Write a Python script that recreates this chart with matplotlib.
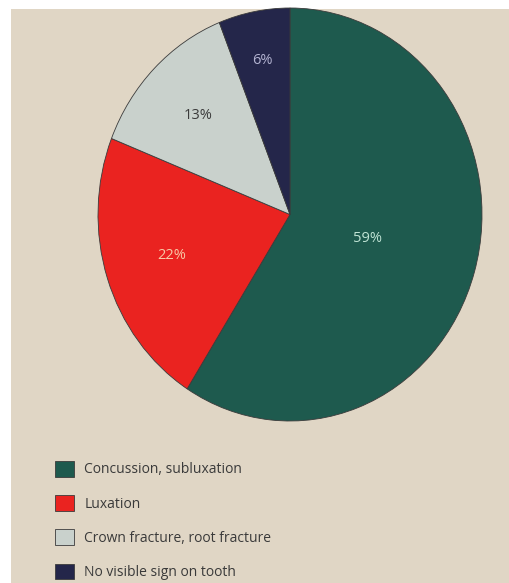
import numpy as np
import matplotlib.pyplot as plt
from matplotlib.patches import Rectangle

plt.rcParams['font.family'] = ['Open Sans', 'DejaVu Sans']

categories = ['Concussion, subluxation', 'Luxation',
              'Crown fracture, root fracture', 'No visible sign on tooth']
shares = [59, 22, 13, 6]

colors = ['#1e5a4e', '#ea2320', '#c9d1cc', '#24264a']
label_colors = ['#bfe3d4', '#f8c9a6', '#3a3a3a', '#b4b4d2']
label_dist = [0.42, 0.65, 0.68, 0.76]
paper = '#e0d6c5'

fig = plt.figure(figsize=(5.1, 5.83), dpi=100, facecolor='white')
# photographed page (white strip along top and left edge)
fig.add_artist(Rectangle((11 / 510, 0), 1, 1 - 9 / 583,
                         transform=fig.transFigure, facecolor=paper,
                         edgecolor='none', zorder=-10))

ax = fig.add_axes([98 / 510, 1 - 421 / 583, 384 / 510, 413 / 583])
wedges, _ = ax.pie(shares, colors=colors, startangle=90, counterclock=False,
                   radius=1, wedgeprops=dict(edgecolor='#3b3b3b', linewidth=0.6))
ax.set_aspect('auto')
ax.set_xlim(-1, 1)
ax.set_ylim(-1, 1)
ax.axis('off')

for w, val, c, d in zip(wedges, shares, label_colors, label_dist):
    mid = np.deg2rad((w.theta1 + w.theta2) / 2)
    ax.text(d * np.cos(mid), d * np.sin(mid), f'{val}%', color=c,
            fontsize=10.5, ha='center', va='center')

fig.legend(wedges, categories, loc='upper left',
           bbox_to_anchor=(55 / 510, 1 - 461 / 583), frameon=False,
           fontsize=10, handlelength=1.35, handleheight=1.35,
           handletextpad=0.75, labelspacing=1.28, borderpad=0,
           borderaxespad=0, labelcolor='#3a3a3a')

fig.savefig('out.png', dpi=100, facecolor=fig.get_facecolor())
